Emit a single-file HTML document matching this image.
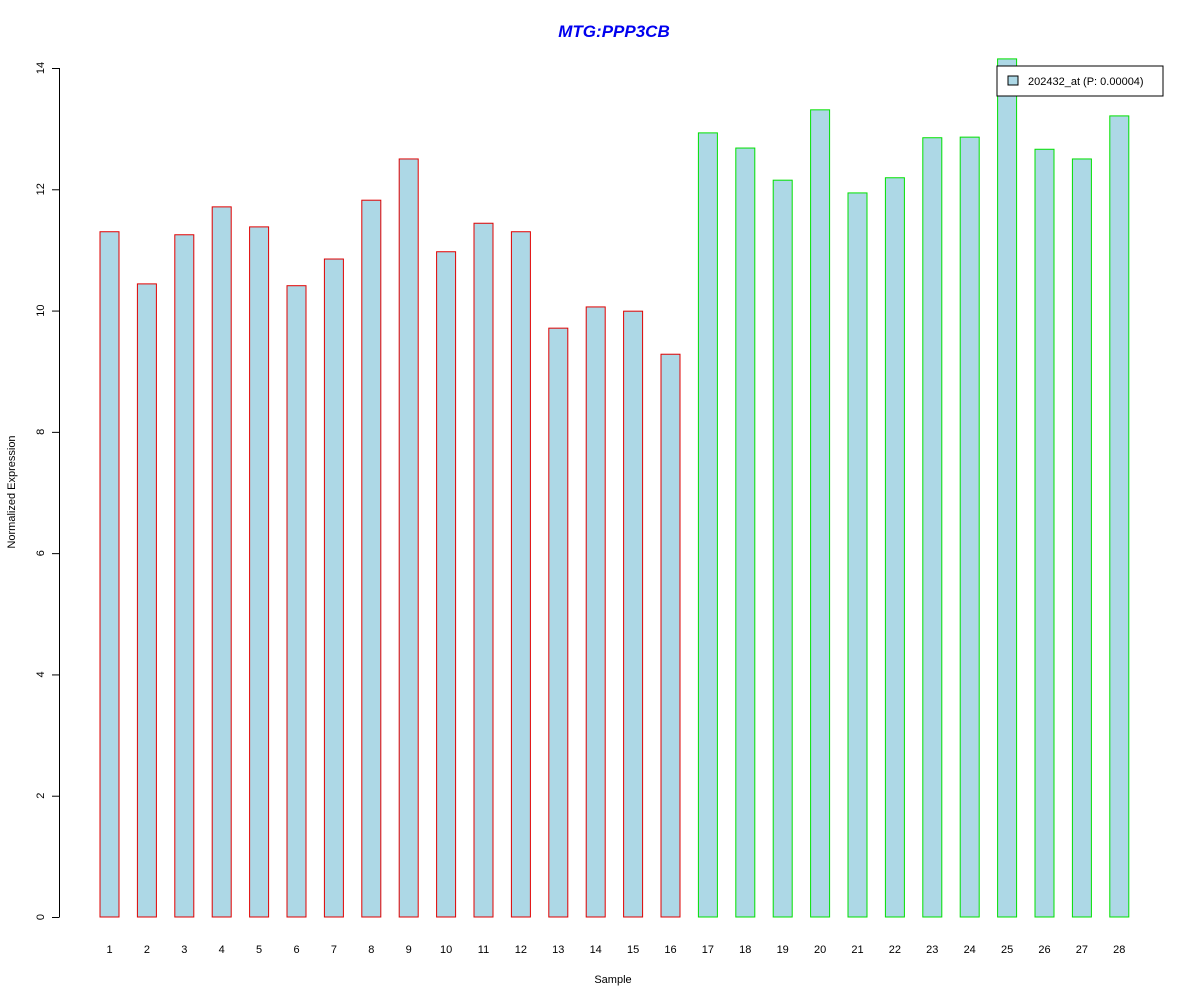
<!DOCTYPE html>
<html><head><meta charset="utf-8"><style>
html,body{margin:0;padding:0;background:#fff;}
svg{display:block;font-family:"Liberation Sans",Arial,sans-serif;}
</style></head><body>
<svg id="chart" width="1200" height="1000" xmlns="http://www.w3.org/2000/svg">
<rect width="1200" height="1000" fill="#fff"/>
<text x="614" y="37" text-anchor="middle" font-size="17" font-weight="bold" font-style="italic" fill="#0000ee">MTG:PPP3CB</text>
<text transform="translate(15,492) rotate(-90)" text-anchor="middle" font-size="11">Normalized Expression</text>
<text x="613" y="983" text-anchor="middle" font-size="11">Sample</text>
<g id="yaxis"></g>
<g id="bars"></g>
<g id="xlabels"></g>
<g>
<rect x="997" y="66" width="166" height="30" fill="#fff" stroke="#000" stroke-width="1"/>
<rect x="1008" y="76" width="10" height="9" fill="#add8e6" stroke="#000" stroke-width="1"/>
<text x="1028" y="85" font-size="11">202432_at (P: 0.00004)</text>
</g>
</svg>
<script>
const categories = ["1","2","3","4","5","6","7","8","9","10","11","12","13","14","15","16","17","18","19","20","21","22","23","24","25","26","27","28"];
const values = [11.30,10.44,11.25,11.71,11.38,10.41,10.85,11.82,12.50,10.97,11.44,11.30,9.71,10.06,9.99,9.28,12.93,12.68,12.15,13.31,11.94,12.19,12.85,12.86,14.15,12.66,12.50,13.21];
const groups = ["a","a","a","a","a","a","a","a","a","a","a","a","a","a","a","a","b","b","b","b","b","b","b","b","b","b","b","b"];
const yTicks = [0,2,4,6,8,10,12,14];
const NS="http://www.w3.org/2000/svg";
function y(v){return 917-(v/14)*849;}
function xc(i){return 109.5+i*37.4;}
function mk(tag,attrs,parent){const e=document.createElementNS(NS,tag);for(const k in attrs)e.setAttribute(k,attrs[k]);parent.appendChild(e);return e;}
const ya=document.getElementById('yaxis');
const l=mk('line',{x1:59.5,x2:59.5,y1:y(0),y2:y(14),stroke:'#000'},ya);


yTicks.forEach(t=>{
  const tk=mk('line',{x1:52,x2:59.5,y1:y(t)+0.5,y2:y(t)+0.5,stroke:'#000'},ya);
  
  
  const tx=mk('text',{transform:`translate(44,${y(t)}) rotate(-90)`,'text-anchor':'middle','font-size':'11'},ya);
  tx.textContent=t;
  
  
});
const bg=document.getElementById('bars'), xl=document.getElementById('xlabels');
values.forEach((v,i)=>{
  const r=mk('rect',{x:xc(i)-9.5,y:y(v),width:19,height:y(0)-y(v),fill:'#add8e6',stroke:groups[i]==='a'?'#e00000':'#00e000','stroke-width':1},bg);
  
  
  const t=mk('text',{x:xc(i),y:953,'text-anchor':'middle','font-size':'11'},xl);
  t.textContent=categories[i];
  
  
});
</script>
</body></html>
